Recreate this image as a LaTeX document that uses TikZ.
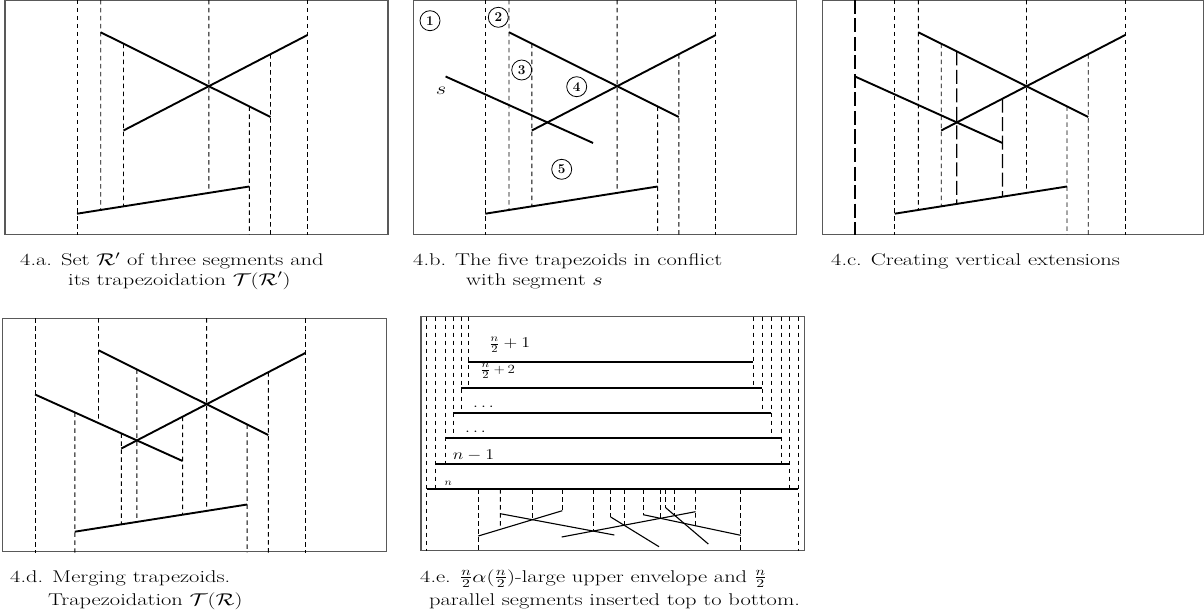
\RequirePackage{fix-cm}
\documentclass[tikz,border=0pt]{standalone}
\usepackage{amsmath}
\usepackage{graphicx}
\newcommand\wide[1]{\scalebox{1.32}[1]{#1}}
\newcommand\wideb[1]{\scalebox{1.2}[1]{#1}}
\tikzset{
  boxframe/.style={draw=black!65, line width=1.3pt},
  seg/.style={line width=1.9pt, line cap=butt},
  thinseg/.style={line width=1.1pt},
  ext/.style={line width=0.9pt, dash pattern=on 4.5pt off 3.5pt},
  longext/.style={line width=1.3pt, dash pattern=on 14pt off 4.5pt},
  capt/.style={anchor=base west, inner sep=0pt, font=\fontsize{17}{20}\selectfont},
  lab/.style={anchor=base west, inner sep=0pt, font=\fontsize{15}{16}\selectfont},
  num/.style={circle, draw, line width=0.8pt, minimum size=20pt, inner sep=0pt, font=\fontsize{13.5}{15}\selectfont\bfseries},
}
% base configuration of three segments (and s)
\newcommand\basecoords{%
  \coordinate (T) at (0,0);
  \coordinate (B) at (0,234.5);
  \coordinate (a1) at (95.7,32.3);
  \coordinate (a2) at (265.5,117);
  \coordinate (b1) at (118.5,130.5);
  \coordinate (b2) at (302.5,35);
  \coordinate (c1) at (72,213.7);
  \coordinate (c2) at (244.3,186.5);
  \coordinate (s1) at (32.3,76.5);
  \coordinate (s2) at (179.8,143);
  \coordinate (X) at (intersection of a1--a2 and b1--b2);
  \coordinate (Y) at (intersection of s1--s2 and b1--b2);
  \foreach \p in {a1,a2,b1,b2,c1,c2,s1,s2,X,Y}{%
    \coordinate (\p T) at (\p|-T);
    \coordinate (\p B) at (\p|-B);
  }%
}
\newcommand\segsABC{%
  \draw[seg] (a1) -- (a2);
  \draw[seg] (b1) -- (b2);
  \draw[seg] (c1) -- (c2);
}
\newcommand\extABC{%
  \draw[ext] (c1T) -- (c1B);
  \draw[ext] (a1T) -- (intersection of c1--c2 and a1T--a1B);
  \draw[ext] (intersection of a1--a2 and b1T--b1B) -- (intersection of c1--c2 and b1T--b1B);
  \draw[ext] (XT) -- (intersection of c1--c2 and XT--XB);
  \draw[ext] (intersection of a1--a2 and c2T--c2B) -- (c2B);
  \draw[ext] (intersection of b1--b2 and a2T--a2B) -- (a2B);
  \draw[ext] (b2T) -- (b2B);
}
\begin{document}
\begin{tikzpicture}[x=1pt,y=-1pt]
\useasboundingbox (0,0) rectangle (1204,615);

% ---------- 4.a ----------
\begin{scope}[shift={(5,0)}, name prefix=pa-]
  \basecoords
  \draw[boxframe] (0,0.8) rectangle (383,234.5);
  \extABC
  \segsABC
\end{scope}

% ---------- 4.b ----------
\begin{scope}[shift={(413.3,0)}, name prefix=pb-]
  \basecoords
  \draw[boxframe] (0,0.8) rectangle (383.4,234.5);
  \extABC
  \segsABC
  \draw[seg] (s1) -- (s2);
\end{scope}
\node[num] (n1) at (430,20.7) {1};
\node[num] (n2) at (498.3,17.3) {2};
\node[num] (n3) at (521.7,70) {3};
\node[num] (n4) at (576.7,86.7) {4};
\node[num] (n5) at (561.7,169.3) {5};
\node[font=\fontsize{17}{20}\selectfont, inner sep=0pt] (slab) at (441,91) {\wide{$s$}};

% ---------- 4.c ----------
\begin{scope}[shift={(822.7,0)}, name prefix=pc-]
  \basecoords
  \draw[boxframe] (0,0.8) rectangle (380.6,234.5);
  \extABC
  \draw[longext] (s1T) -- (s1B);
  \draw[longext] (intersection of a1--a2 and YT--YB) -- (intersection of c1--c2 and YT--YB);
  \draw[longext] (intersection of b1--b2 and s2T--s2B) -- (intersection of c1--c2 and s2T--s2B);
  \segsABC
  \draw[seg] (s1) -- (s2);
\end{scope}

% ---------- 4.d ----------
\begin{scope}[shift={(2.8,318)}, name prefix=pd-]
  \basecoords
  \draw[boxframe] (0,0.3) rectangle (384,233.7);
  \draw[ext] (s1T) -- (s1B);
  \draw[ext] (intersection of s1--s2 and c1T--c1B) -- (c1B);
  \draw[ext] (a1T) -- (intersection of s1--s2 and a1T--a1B);
  \draw[ext] (intersection of s1--s2 and b1T--b1B) -- (intersection of c1--c2 and b1T--b1B);
  \draw[ext] (intersection of a1--a2 and YT--YB) -- (intersection of c1--c2 and YT--YB);
  \draw[ext] (intersection of b1--b2 and s2T--s2B) -- (intersection of c1--c2 and s2T--s2B);
  \draw[ext] (XT) -- (intersection of c1--c2 and XT--XB);
  \draw[ext] (intersection of a1--a2 and c2T--c2B) -- (c2B);
  \draw[ext] (intersection of b1--b2 and a2T--a2B) -- (a2B);
  \draw[ext] (b2T) -- (b2B);
  \segsABC
  \draw[seg] (s1) -- (s2);
\end{scope}

% ---------- 4.e ----------
\coordinate (eT) at (0,316.7);
\coordinate (eB) at (0,550.7);
\draw[boxframe] (421,316.7) rectangle (804.5,550.7);
\foreach \k/\l/\r/\y in {1/468.3/753/362.3, 2/461/762/387.7, 3/453.3/771/412.7,
                          4/445.5/781/437.7, 5/435.5/789.5/464, 6/426.7/798.3/489}{%
  \coordinate (hl\k) at (\l,\y);
  \coordinate (hr\k) at (\r,\y);
}
\foreach \k/\n in {1/2,2/3,3/4,4/5,5/6}{%
  \draw[ext] (hl\k|-eT) -- (hl\k|-hl\n);
  \draw[ext] (hr\k|-eT) -- (hr\k|-hr\n);
}
\draw[ext] (hl6|-eT) -- (hl6|-eB);
\draw[ext] (hr6|-eT) -- (hr6|-eB);
\foreach \k in {1,...,6}{\draw[seg] (hl\k) -- (hr\k);}

\coordinate (l1a) at (478.3,536);   \coordinate (l1b) at (562.3,510.7);
\coordinate (l2a) at (500.3,513.7); \coordinate (l2b) at (614.3,535);
\coordinate (l3a) at (561.7,537);   \coordinate (l3b) at (695.5,511.7);
\coordinate (l4a) at (610.7,517);   \coordinate (l4b) at (659,546.7);
\coordinate (l5a) at (643.3,514.7); \coordinate (l5b) at (740.7,535.3);
\coordinate (l6a) at (665.7,507.7); \coordinate (l6b) at (708.3,544);
\coordinate (x12) at (intersection of l1a--l1b and l2a--l2b);
\coordinate (x23) at (intersection of l2a--l2b and l3a--l3b);
\coordinate (x34) at (intersection of l3a--l3b and l4a--l4b);
\coordinate (x35) at (intersection of l3a--l3b and l5a--l5b);
\coordinate (x36) at (intersection of l3a--l3b and l6a--l6b);
\coordinate (l2aB) at (l2a|-eB);
\coordinate (l3bB) at (l3b|-eB);
\draw[ext] (l1a|-hl6) -- (l1a|-eB);
\draw[ext] (l2a|-hl6) -- (intersection of l1a--l1b and l2a--l2aB);
\foreach \p in {x12,l1b,x23,l4a,x34,l5a,x35,l6a,x36}{\draw[ext] (\p|-hl6) -- (\p);}
\draw[ext] (l3b|-hl6) -- (intersection of l5a--l5b and l3b--l3bB);
\draw[ext] (l5b|-hl6) -- (l5b|-eB);
\foreach \i in {1,...,6}{\draw[thinseg] (l\i a) -- (l\i b);}

\node[lab, anchor=west] (t1) at (489,345) {\wideb{$\frac{n}{2}+1$}};
\node[lab, anchor=west] (t2) at (480,371) {\wideb{$\frac{n}{2}$\,{\fontsize{12.5}{13}\selectfont$+$\,2}}};
\node[lab] (t3) at (473,407) {\wideb{$\ldots$}};
\node[lab] (t4) at (465,432.7) {\wideb{$\ldots$}};
\node[lab] (t5) at (452.7,459) {\wideb{$n-1$}};
\node[lab, font=\fontsize{10}{12}\selectfont] (t6) at (444.3,485) {\wideb{$n$}};

% ---------- captions ----------
\node[capt] (ca1) at (20,265.5) {\wide{4.a. Set $\mathcal{R}'$ of three segments and}};
\node[capt] (ca2) at (68,285) {\wide{its trapezoidation $\mathcal{T}(\mathcal{R}')$}};
\node[capt] (cb1) at (413,265.5) {\wide{4.b. The five trapezoids in conflict}};
\node[capt] (cb2) at (466,285) {\wide{with segment $s$}};
\node[capt] (cc1) at (831,265.5) {\wide{4.c. Creating vertical extensions}};
\node[capt] (cd1) at (10,582) {\wide{4.d. Merging trapezoids.}};
\node[capt] (cd2) at (48,605) {\wide{Trapezoidation $\mathcal{T}(\mathcal{R})$}};
\node[capt] (ce1) at (420,582) {\wide{4.e. $\frac{n}{2}\alpha(\frac{n}{2})$-large upper envelope and $\frac{n}{2}$}};
\node[capt] (ce2) at (429,605) {\wide{parallel segments inserted top to bottom.}};
\end{tikzpicture}
\end{document}
